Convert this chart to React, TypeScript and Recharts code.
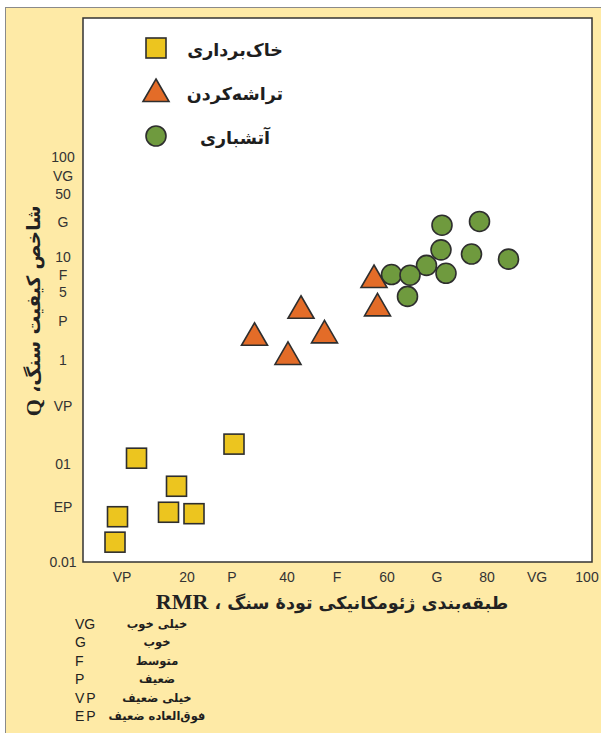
import React from "react";
import {
  ScatterChart,
  Scatter,
  XAxis,
  YAxis,
  CartesianGrid,
  ReferenceArea,
  Legend,
} from "recharts";

const seriesNames = ["خاک‌برداری", "تراشه‌کردن", "آتشباری"];

// خاک‌برداری
const excavationRMR = [9.9, 29.4, 17.9, 6.1, 16.3, 21.4, 5.6];
const excavationQ = [0.106, 0.146, 0.056, 0.028, 0.031, 0.03, 0.0157];
// تراشه‌کردن
const scalingRMR = [33.5, 42.8, 47.5, 40.2, 57.4, 58.1];
const scalingQ = [1.64, 3.03, 1.73, 1.06, 6.1, 3.2];
// آتشباری
const blastingRMR = [71, 78.5, 70.8, 76.9, 84.3, 67.9, 60.9, 64.6, 71.8, 64.1];
const blastingQ = [21.2, 23.1, 12.1, 11.0, 9.8, 8.5, 6.9, 6.8, 7.1, 4.2];

const xTickValues = [7, 20, 29, 40, 50, 60, 70, 80, 90, 100];
const xTickLabels = ["VP", "20", "P", "40", "F", "60", "G", "80", "VG", "100"];
const yTickValues = [100, 65, 43, 23, 10.2, 6.8, 4.6, 2.4, 1, 0.35, 0.092, 0.035, 0.01];
const yTickLabels = ["100", "VG", "50", "G", "10", "F", "5", "P", "1", "VP", "01", "EP", "0.01"];

const ratingCodes = ["VG", "G", "F", "P", "VP", "EP"];
const ratingNames = ["خیلی خوب", "خوب", "متوسط", "ضعیف", "خیلی ضعیف", "فوق‌العاده ضعیف"];

const X_DOMAIN: [number, number] = [-0.8, 101];
const Y_DOMAIN: [number, number] = [0.01, 2360];

const toPoints = (xs: number[], ys: number[]) =>
  xs.map((rmr, i) => ({ rmr, q: ys[i] }));

const excavationData = toPoints(excavationRMR, excavationQ);
const scalingData = toPoints(scalingRMR, scalingQ);
const blastingData = toPoints(blastingRMR, blastingQ);

const PERSIAN_FONT = "'DejaVu Sans', sans-serif";
const LATIN_FONT = "'Liberation Sans', Arial, sans-serif";
const SERIF_FONT = "'Liberation Serif', 'Times New Roman', serif";
const OUTLINE = "#2e2e2e";

const SquareMark = (p: any) => (
  <rect
    x={p.cx - 10}
    y={p.cy - 10}
    width={20}
    height={20}
    fill="#ecc51f"
    stroke={OUTLINE}
    strokeWidth={1.6}
  />
);

const TriangleMark = (p: any) => (
  <polygon
    points={`${p.cx},${p.cy - 15} ${p.cx + 13},${p.cy + 7.5} ${p.cx - 13},${p.cy + 7.5}`}
    fill="#e36c28"
    stroke={OUTLINE}
    strokeWidth={1.6}
  />
);

const CircleMark = (p: any) => (
  <circle cx={p.cx} cy={p.cy} r={10} fill="#6f9a3e" stroke={OUTLINE} strokeWidth={1.6} />
);

const marks = [SquareMark, TriangleMark, CircleMark];

const XTick = (p: any) => {
  const i = xTickValues.indexOf(p.payload.value);
  return (
    <text x={p.x} y={582} textAnchor="middle" fontFamily={LATIN_FONT} fontSize={14} fill="#333">
      {xTickLabels[i]}
    </text>
  );
};

const YTick = (p: any) => {
  const i = yTickValues.indexOf(p.payload.value);
  return (
    <text x={63} y={p.y + 5} textAnchor="middle" fontFamily={LATIN_FONT} fontSize={14} fill="#333">
      {yTickLabels[i]}
    </text>
  );
};

const XTitle = () => (
  <text
    x={332}
    y={609}
    textAnchor="middle"
    direction="rtl"
    fontFamily={PERSIAN_FONT}
    fontWeight="bold"
    fontSize={17.5}
    fill="#222"
  >
    طبقه‌بندی ژئومکانیکی تودهٔ سنگ ،{" "}
    <tspan fontFamily={SERIF_FONT} fontSize={22}>
      RMR
    </tspan>
  </text>
);

const YTitle = () => (
  <text
    x={33}
    y={311}
    transform="rotate(-90, 33, 311)"
    textAnchor="middle"
    dominantBaseline="central"
    direction="rtl"
    fontFamily={PERSIAN_FONT}
    fontWeight="bold"
    fontSize={18.5}
    fill="#222"
  >
    شاخص کیفیت سنگ،{" "}
    <tspan fontFamily={SERIF_FONT} fontSize={22}>
      Q
    </tspan>
  </text>
);

const LegendContent = () => (
  <div style={{ position: "relative", width: 601, height: 0 }}>
    {seriesNames.map((name, i) => {
      const Mark = marks[i];
      const top = 26 + i * 44;
      return (
        <div key={name} style={{ position: "absolute", left: 0, top, height: 44 }}>
          <svg width={32} height={44} style={{ position: "absolute", left: 140, top: 0 }}>
            <Mark cx={16} cy={i === 1 ? 24 : 22} />
          </svg>
          <div
            dir="rtl"
            style={{
              position: "absolute",
              left: 180,
              width: 110,
              top: 2,
              lineHeight: "44px",
              textAlign: "center",
              fontFamily: PERSIAN_FONT,
              fontWeight: "bold",
              fontSize: 17.5,
              color: "#1e1e1e",
              whiteSpace: "nowrap",
            }}
          >
            {name}
          </div>
        </div>
      );
    })}
  </div>
);

export default function App() {
  return (
    <div
      style={{
        position: "absolute",
        left: 0,
        top: 0,
        width: 601,
        height: 733,
        overflow: "hidden",
        background: "#fff",
      }}
    >
      <div
        style={{
          position: "absolute",
          left: 5,
          top: 7,
          width: 620,
          height: 760,
          background: "#feeaa6",
          border: "1.5px solid #8a8a8a",
        }}
      />
      <div style={{ position: "absolute", left: 0, top: 0 }}>
        <ScatterChart width={601} height={733} margin={{ top: 18, right: 9, bottom: 0, left: 0 }}>
          <CartesianGrid horizontal={false} vertical={false} fill="#ffffff" fillOpacity={1} />
          <XAxis
            type="number"
            dataKey="rmr"
            domain={X_DOMAIN}
            ticks={xTickValues}
            interval={0}
            height={171}
            axisLine={false}
            tickLine={false}
            allowDataOverflow
            tick={<XTick />}
            label={<XTitle />}
          />
          <YAxis
            type="number"
            dataKey="q"
            scale="log"
            domain={Y_DOMAIN}
            ticks={yTickValues}
            interval={0}
            width={83}
            axisLine={false}
            tickLine={false}
            allowDataOverflow
            tick={<YTick />}
            label={<YTitle />}
          />
          <ReferenceArea
            x1={X_DOMAIN[0]}
            x2={X_DOMAIN[1]}
            y1={Y_DOMAIN[0]}
            y2={Y_DOMAIN[1]}
            fill="none"
            stroke="#333"
            strokeWidth={1.5}
          />
          <Legend
            layout="vertical"
            align="center"
            verticalAlign="middle"
            wrapperStyle={{ left: 0, top: 0, width: 601, height: 0 }}
            content={<LegendContent />}
          />
          <Scatter name={seriesNames[0]} data={excavationData} shape={<SquareMark />} isAnimationActive={false} />
          <Scatter name={seriesNames[1]} data={scalingData} shape={<TriangleMark />} isAnimationActive={false} />
          <Scatter name={seriesNames[2]} data={blastingData} shape={<CircleMark />} isAnimationActive={false} />
        </ScatterChart>
      </div>
      <div style={{ position: "absolute", left: 0, top: 0 }}>
        {ratingCodes.map((code, i) => (
          <div key={code} style={{ position: "absolute", top: 615 + i * 18.4, left: 0, height: 18 }}>
            <span
              style={{
                position: "absolute",
                left: 75,
                lineHeight: "18px",
                fontFamily: LATIN_FONT,
                fontSize: 14,
                letterSpacing: code.length > 1 && code !== "VG" ? 2 : 0,
                color: "#222",
              }}
            >
              {code}
            </span>
            <span
              dir="rtl"
              style={{
                position: "absolute",
                left: 107,
                width: 100,
                textAlign: "center",
                lineHeight: "18px",
                fontFamily: PERSIAN_FONT,
                fontWeight: "bold",
                fontSize: 11.5,
                color: "#1e1e1e",
                whiteSpace: "nowrap",
              }}
            >
              {ratingNames[i]}
            </span>
          </div>
        ))}
      </div>
    </div>
  );
}
